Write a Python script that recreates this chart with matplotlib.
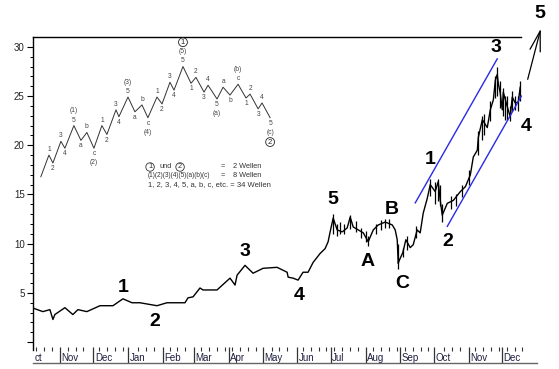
import matplotlib
matplotlib.use('Agg')
import matplotlib.pyplot as plt
import numpy as np

plt.rcParams['font.family'] = ['Liberation Sans', 'DejaVu Sans', 'Noto Sans CJK JP']

W, H = 559, 369
fig = plt.figure(figsize=(W / 100, H / 100), dpi=100)


def fx(px):
    return px / W


def fy(py):
    return 1 - py / H


# ---------------- data ----------------
# x = calendar days counted from 1 October of the first year
price_day = [6.0, 15.8, 22.1, 24.8, 26.5, 35.5, 42.6, 47.1, 55.1, 66.8, 78.4, 87.3,
             95.4, 102.5, 117.7, 126.6, 142.7, 145.4, 149.9, 156.1, 158.8, 171.3,
             182.9, 187.4, 189.2, 196.3, 203.5, 212.4, 224.9, 233.9, 234.8, 239.2,
             243.7, 248.1, 252.6, 257.1, 263.3, 267.8, 270.5, 272.3, 275.0, 278.6,
             283.1, 287.5, 290.2, 292.9, 297.4, 301.9, 306.3, 310.8, 315.2, 321.5,
             327.8, 330.4, 332.2, 333.1, 334.0, 337.2, 339.9, 343.8, 346.5, 350.0,
             352.7, 355.4, 359.0, 361.7, 366.1, 368.8, 370.6, 372.4, 376.9, 382.3,
             388.6, 393.1, 397.5, 400.1, 403.7, 404.6, 408.2, 412.6, 415.3, 418.0,
             419.8, 421.5, 422.4, 424.2, 426.0, 426.9, 430.5, 433.1, 434.9, 437.6,
             440.3, 442.0]
price_close = [3.5, 3.1, 3.3, 2.3, 2.8, 3.5, 2.8, 3.3, 3.1, 3.7, 3.7, 4.4,
               4.0, 4.0, 3.7, 4.0, 4.0, 4.5, 4.6, 5.5, 5.3, 5.3,
               6.5, 5.8, 6.8, 7.8, 7.0, 7.5, 7.6, 7.1, 6.6, 6.5,
               6.3, 7.1, 7.1, 8.1, 9.0, 9.5, 10.2, 11.2, 12.6, 11.4,
               11.2, 11.6, 12.7, 11.7, 11.4, 11.1, 10.2, 11.4, 11.9, 12.2,
               11.9, 11.4, 10.4, 8.0, 8.3, 9.1, 10.4, 9.6, 9.9, 11.4,
               11.1, 13.1, 14.6, 16.0, 15.3, 16.3, 14.4, 12.9, 14.1, 14.4,
               15.3, 15.8, 17.0, 18.8, 19.5, 20.8, 22.6, 21.8, 23.6, 24.6,
               26.6, 27.2, 26.3, 25.3, 23.6, 25.4, 23.9, 22.9, 24.9, 24.3,
               24.4, 25.9]

bar_day = [275.0, 278.6, 281.0, 285.0, 290.2, 295.0, 300.0, 304.0, 306.3, 313.0,
           318.0, 321.5, 325.0, 333.1, 337.2, 341.0, 349.0, 361.7, 366.1, 368.8,
           370.6, 372.4, 380.0, 385.0, 390.0, 396.0, 404.6, 408.2, 410.0, 415.3,
           419.8, 421.5, 424.2, 426.9, 428.0, 430.5, 433.1, 434.9, 437.0, 440.3,
           442.0]
bar_low = [11.0, 10.8, 11.0, 11.0, 11.5, 11.2, 10.6, 10.2, 9.8, 11.0,
           11.4, 11.6, 11.6, 7.4, 8.6, 9.4, 10.6, 14.8, 14.0, 14.3,
           13.8, 12.2, 13.5, 13.8, 14.7, 16.0, 19.0, 20.5, 21.0, 22.5,
           24.8, 25.0, 23.8, 23.0, 22.6, 22.6, 22.5, 23.5, 23.6, 23.5,
           24.5]
bar_high = [13.0, 12.0, 12.2, 12.0, 12.9, 12.3, 11.6, 11.3, 10.8, 12.0,
            12.4, 12.5, 12.5, 10.0, 9.6, 10.8, 11.8, 16.6, 16.3, 16.6,
            16.0, 14.0, 14.8, 15.0, 16.0, 17.5, 21.5, 23.0, 23.2, 24.5,
            27.0, 28.0, 26.5, 25.8, 25.0, 25.0, 24.0, 25.5, 25.0, 25.0,
            26.5]

channel_upper_day = [348.3, 421.5]
channel_upper_val = [14.15, 28.78]
channel_lower_day = [376.9, 443.0]
channel_lower_val = [11.76, 24.99]

month_names = ['ct', 'Nov', 'Dec', 'Jan', 'Feb', 'Mar', 'Apr', 'May', 'Jun',
               'Jul', 'Aug', 'Sep', 'Oct', 'Nov', 'Dec']
month_start = [7, 31, 61, 92, 123, 151, 182, 212, 243, 273, 304, 335, 365, 396, 426]

y_major = [0, 5, 10, 15, 20, 25, 30]
y_major_labels = ['', '5', '10', '15', '20', '25', '30']

# Elliott-wave schematic (drawn on the chart's own scale)
diag_day = [14.0, 21.2, 24.8, 31.9, 35.5, 43.5, 49.8, 55.1, 61.4, 68.5, 73.0, 81.1,
            83.7, 91.8, 98.0, 104.3, 109.6, 117.7, 122.2, 129.3, 132.9, 140.9,
            148.1, 152.5, 159.7, 163.3, 171.3, 176.7, 182.9, 190.1, 197.2, 200.8,
            208.0, 211.5, 218.7]
diag_val = [16.8, 19.0, 18.2, 20.4, 19.7, 22.0, 20.5, 21.3, 19.7, 22.0, 21.1, 23.6,
            22.9, 24.9, 23.4, 24.1, 22.8, 24.9, 24.2, 26.4, 25.6, 28.0,
            26.3, 26.9, 25.4, 26.1, 24.7, 25.9, 25.1, 26.2, 24.8, 25.2,
            23.7, 24.3, 22.8]
diag_lab = ['', '1', '2', '3', '4', '5', 'a', 'b', 'c', '1', '2', '3', '4', '5',
            'a', 'b', 'c', '1', '2', '3', '4', '5', '1', '2', '3', '4', '5',
            'a', 'b', 'c', '1', '2', '3', '4', '5']
diag_degree = {5: '(1)', 8: '(2)', 13: '(3)', 16: '(4)', 21: '(5)',
               26: '(a)', 29: '(b)', 34: '(c)'}
diag_circle = {21: '1', 34: '2'}

# ---------------- main axes ----------------
ax = fig.add_axes([fx(33), fy(350), fx(537) - fx(33), fy(37) - fy(350)])
ax.set_xlim(7, 457)
ax.set_ylim(-0.8, 31.0)
for s in ['right', 'top', 'bottom']:
    ax.spines[s].set_visible(False)
ax.spines['left'].set_linewidth(1.0)
ax.set_xticks([])
ax.set_yticks(y_major)
ax.set_yticklabels(y_major_labels)
ax.set_yticks(np.arange(0, 31, 1), minor=True)
ax.tick_params(axis='y', which='major', direction='out', length=4, width=0.8,
               labelsize=7, pad=2, labelcolor='#222222')
ax.tick_params(axis='y', which='minor', direction='out', length=2.5, width=0.7)
ax.axhline(31.0, xmin=0, xmax=(443 - 7) / 450, color='black', lw=1.0, clip_on=False)

# price
ax.plot(price_day, price_close, color='black', lw=1.0)
ax.vlines(bar_day, bar_low, bar_high, color='black', lw=0.9)

# channel
ax.plot(channel_upper_day, channel_upper_val, color='#2a2ae6', lw=1.0)
ax.plot(channel_lower_day, channel_lower_val, color='#2a2ae6', lw=1.0)

# schematic
ax.plot(diag_day, diag_val, color='#333333', lw=0.7)
for i, lab in enumerate(diag_lab):
    if not lab:
        continue
    peak = diag_val[i] > diag_val[i - 1]
    sgn = 1 if peak else -1
    va = 'bottom' if peak else 'top'
    ax.annotate(lab, (diag_day[i], diag_val[i]), xytext=(0, sgn * 1.5),
                textcoords='offset points', ha='center', va=va, fontsize=4.8,
                color='#444444')
    if i in diag_degree:
        ax.annotate(diag_degree[i], (diag_day[i], diag_val[i]), xytext=(0, sgn * 8),
                    textcoords='offset points', ha='center', va=va, fontsize=4.8,
                    color='#444444')
    if i in diag_circle:
        ax.annotate(diag_circle[i], (diag_day[i], diag_val[i]), xytext=(0, sgn * 15),
                    textcoords='offset points', ha='center', va=va, fontsize=5.5,
                    color='#222222',
                    bbox=dict(boxstyle='circle,pad=0.12', fc='none', ec='#222222', lw=0.6))

# schematic legend
lc = '#333333'
lfs = 5.3
fig.text(fx(148), fy(167), '1', fontsize=lfs, color=lc, va='center', ha='left',
         bbox=dict(boxstyle='circle,pad=0.1', fc='none', ec=lc, lw=0.6))
fig.text(fx(160), fy(167), 'und', fontsize=lfs, color=lc, va='center', ha='left')
fig.text(fx(178), fy(167), '2', fontsize=lfs, color=lc, va='center', ha='left',
         bbox=dict(boxstyle='circle,pad=0.1', fc='none', ec=lc, lw=0.6))
fig.text(fx(221), fy(167), '=', fontsize=lfs, color=lc, va='center', ha='left')
fig.text(fx(233), fy(167), '2 Wellen', fontsize=lfs, color=lc, va='center', ha='left')
fig.text(fx(148), fy(176), '(1)(2)(3)(4)(5)(a)(b)(c)', fontsize=4.7, color=lc,
         va='center', ha='left')
fig.text(fx(221), fy(176), '=', fontsize=lfs, color=lc, va='center', ha='left')
fig.text(fx(233), fy(176), '8 Wellen', fontsize=lfs, color=lc, va='center', ha='left')
fig.text(fx(148), fy(185), '1, 2, 3, 4, 5, a, b, c, etc. = 34 Wellen', fontsize=5.5,
         color=lc, va='center', ha='left')

# wave labels
wave_text = ['1', '2', '3', '4', '5', 'A', 'B', 'C', '1', '2', '3', '4', '5']
wave_px = [(123, 287), (155, 321), (245, 252), (299, 296), (333, 200), (368, 262),
           (392, 210), (402, 283), (430, 159), (448, 241), (496, 47), (526, 126),
           (540, 13)]
for t, (px, py) in zip(wave_text, wave_px):
    fig.text(fx(px), fy(py), t, fontsize=14, fontweight='bold', color='black',
             ha='center', va='center')

# arrow towards wave 5
fig.add_artist(matplotlib.patches.FancyArrowPatch(
    (fx(527), fy(82)), (fx(541.5), fy(26)), transform=fig.transFigure,
    arrowstyle='->,head_length=1.45,head_width=0.38', mutation_scale=10,
    color='black', lw=0.9))

# ---------------- x axis strip ----------------
ax2 = fig.add_axes([fx(33), fy(363), fx(537) - fx(33), fy(347) - fy(363)])
ax2.set_xlim(7, 457)
ax2.set_ylim(0, 1)
ax2.patch.set_alpha(0)
for s in ['right', 'top', 'left']:
    ax2.spines[s].set_visible(False)
ax2.spines['bottom'].set_color('#666666')
ax2.spines['bottom'].set_linewidth(1.0)
ax2.set_xticks([])
ax2.set_yticks([])
weeks = np.arange(10, 450, 7)
weeks = [w for w in weeks if min(abs(w - m) for m in month_start) > 2]
ax2.vlines(weeks, 0.72, 0.98, color='#333333', lw=0.8)
ax2.vlines(month_start[1:], 0, 0.98, color='#333333', lw=0.9)
for name, d in zip(month_names, month_start):
    ax2.text(d + 1.2, 0.32, name, fontsize=7, color='#1e1e3e', ha='left', va='center')

fig.savefig('out.png', dpi=100)
